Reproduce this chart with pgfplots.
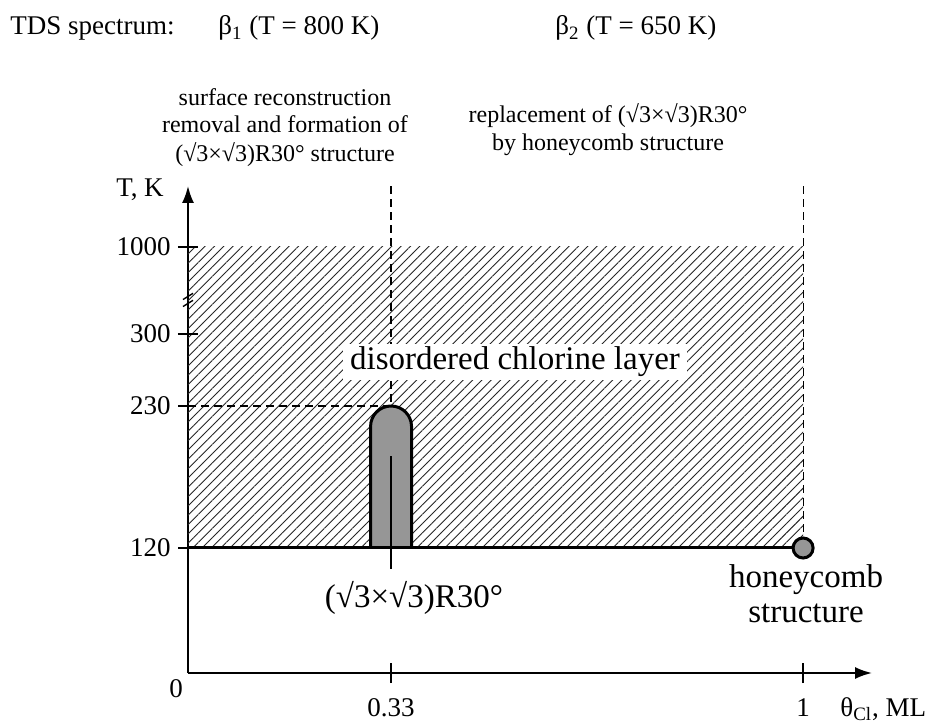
\documentclass[border=0pt]{standalone}
\usepackage{pgfplots}
\pgfplotsset{compat=1.18}
\usepackage{fontspec}
\setmainfont{Liberation Serif}
\usetikzlibrary{patterns.meta,arrows.meta}
\definecolor{pil}{RGB}{150,150,150}
\begin{document}
\begin{tikzpicture}
\useasboundingbox (-94pt,-24.5pt) rectangle (368.5pt,336.5pt);
\begin{axis}[
  at={(0,0)}, anchor=south west,
  scale only axis, width=342pt, height=243.5pt,
  xmin=0, xmax=1.112, ymin=0, ymax=1490.8,
  y coord trafo/.code={\pgfmathparse{#1<120 ? #1/120*125 : (#1<230 ? 125+(#1-120)/110*142 : (#1<300 ? 267+(#1-230)/70*72 : 339+(#1-300)/700*87))}},
  axis lines=left,
  axis line style={line width=1pt},
  x axis line style={-{Latex[length=8.5pt,width=6pt]}},
  y axis line style={-{Latex[length=8.5pt,width=6pt]}},
  xtick={0.33,1}, xticklabels={0.33,1},
  ytick={120,230,300,1000}, yticklabels={120,230,300,1000},
  major tick length=0pt,
  tick style={draw=none},
  ticklabel style={font=\fontsize{13.5}{16}\selectfont},
  yticklabel style={anchor=east, inner sep=0pt, xshift=-8.5pt},
  xticklabel style={anchor=base, yshift=-21.5pt},
  clip=false,
]
% hatched region
\addplot[draw=none, pattern={Lines[angle=45,distance=3.3pt,line width=0.45pt]}, pattern color=black!85]
  coordinates {(0,120) (1,120) (1,1000) (0,1000)} -- cycle;
% dashed guide lines
\addplot[black, line width=0.6pt, dash pattern=on 4pt off 2.5pt] coordinates {(0.33,1490.8) (0.33,230)};
\addplot[black, line width=0.6pt, dash pattern=on 4pt off 2.5pt] coordinates {(1,1490.8) (1,120)};
\addplot[black, line width=0.6pt, dash pattern=on 4pt off 2.5pt] coordinates {(0,230) (0.33,230)};
% pillar
\addplot[fill=pil, draw=black, line width=1.5pt, rounded corners=10.25pt]
  coordinates {(0.2968,120) (0.2968,230) (0.3634,230) (0.3634,120)};
\addplot[black, line width=0.6pt] coordinates {(0.33,191) (0.33,100)};
% baseline
\addplot[black, line width=1.5pt] coordinates {(0,120) (1,120)};
% honeycomb point
\addplot[only marks, mark=*, mark size=5pt, mark options={fill=pil, draw=black, line width=1.5pt}] coordinates {(1,120)};
% ticks
\draw[line width=0.8pt] (axis cs:0,120) -- ++(-5pt,0);
\draw[line width=0.8pt] (axis cs:0,230) -- ++(-5pt,0);
\draw[line width=0.8pt] (axis cs:0,300) ++(-5pt,0) -- ++(10pt,0);
\draw[line width=0.8pt] (axis cs:0,1000) ++(-5pt,0) -- ++(10pt,0);
\draw[line width=0.8pt] (axis cs:0.33,0) ++(0,-5pt) -- ++(0,10pt);
\draw[line width=0.8pt] (axis cs:1,0) ++(0,-5pt) -- ++(0,10pt);
% axis break
\draw[line width=0.7pt, shift={(axis cs:0,574)}] (-2.5pt,0.2pt) -- (2.5pt,3.3pt) (-2.5pt,-3.3pt) -- (2.5pt,-0.2pt);
\end{axis}
% texts
\begin{scope}[every node/.style={font=\fontsize{13.5}{16}\selectfont, inner sep=0pt}]
\node[anchor=base west] at (-89pt,319pt) {TDS spectrum:};
\node[anchor=base west] at (15pt,319pt) {β\textsubscript{1} (T = 800 K)};
\node[anchor=base west] at (183.5pt,319pt) {β\textsubscript{2} (T = 650 K)};
\node[anchor=base] at (-24pt,238pt) {T, K};
\node[anchor=base] at (-6pt,-12pt) {0};
\node[anchor=base west] at (326pt,-21.5pt) {θ\textsubscript{Cl}, ML};
\end{scope}
\begin{scope}[every node/.style={font=\fontsize{12}{14}\selectfont, inner sep=0pt, anchor=base}]
\node at (48.5pt,283.5pt) {surface reconstruction};
\node at (48.5pt,270pt) {removal and formation of};
\node at (48.5pt,255.5pt) {(√3×√3)R30° structure};
\node at (210pt,275pt) {replacement of (√3×√3)R30°};
\node at (210pt,261pt) {by honeycomb structure};
\end{scope}
\begin{scope}[every node/.style={font=\fontsize{16.5}{19}\selectfont, anchor=base}]
\node[fill=white, inner xsep=3.5pt, inner ysep=1.5pt] at (163.5pt,151.5pt) {disordered chlorine layer};
\node[inner sep=0pt] at (113pt,33pt) {(√3×√3)R30°};
\node[inner sep=0pt] at (309pt,42.5pt) {honeycomb};
\node[inner sep=0pt] at (309pt,25.5pt) {structure};
\end{scope}
\end{tikzpicture}
\end{document}
